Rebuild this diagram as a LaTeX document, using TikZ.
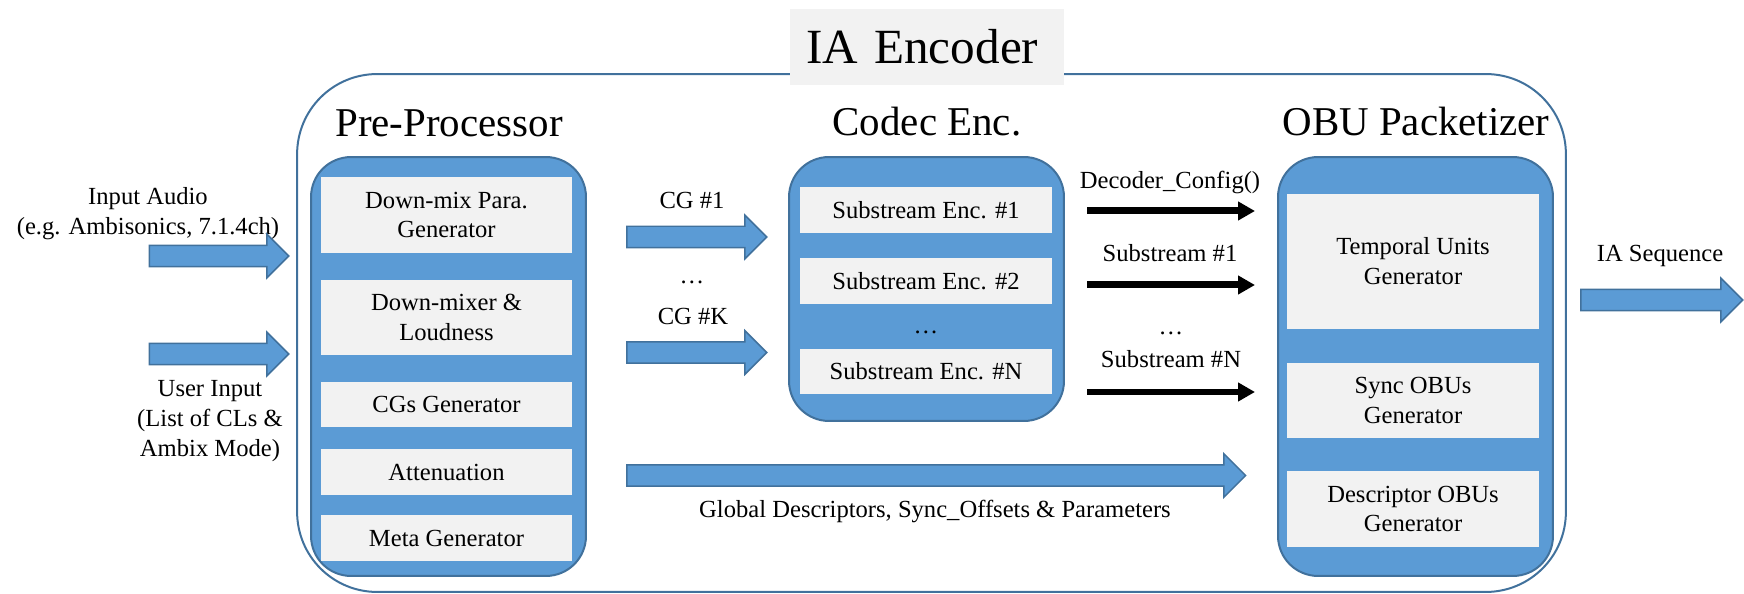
\documentclass[tikz,border=0pt]{standalone}
\usepackage{fontspec}
\setmainfont{Liberation Serif}
\usetikzlibrary{shapes.arrows,arrows.meta}

\definecolor{blueFill}{RGB}{91,155,213}
\definecolor{blueLine}{RGB}{65,113,156}
\definecolor{grayFill}{RGB}{242,242,242}

\tikzset{
  encbox/.style={draw=blueLine, line width=0.04cm, rounded corners=1.6cm, inner sep=0},
  modbox/.style={draw=blueLine, fill=blueFill, line width=0.04cm, rounded corners=0.8cm, inner sep=0, minimum width=5.5cm},
  unitbox/.style={fill=grayFill, inner sep=0, align=center, minimum width=5.03cm},
  title/.style={anchor=base, font=\fontsize{23.3}{28}\selectfont},
  lbl/.style={anchor=base},
  blockarrow/.style={single arrow, draw=blueLine, fill=blueFill, line width=0.03cm, inner xsep=0, inner ysep=0.2cm, single arrow head extend=0.22cm, anchor=tail},
  dataarrow/.style={line width=0.14cm, -{Triangle[length=0.34cm, width=0.36cm]}}
}

\begin{document}
\begin{tikzpicture}[x=0.02cm, y=-0.02cm, font=\fontsize{14}{17}\selectfont]

   \useasboundingbox (0,0) rectangle (1744,594);

   \def\xpre{446.5} % pre-processor units
   \def\xcod{926} % codec units
   \def\xobu{1413} % packetizer units
   \def\xds{1087} % data arrows start
   \def\xde{1255} % data arrows end
   \def\xmid{1170}

   % encoder frame and its name
   \node[encbox, minimum width=25.38cm, minimum height=10.36cm] (enc) at (931.5,333) {};
   \node[fill=grayFill, text width=4.84cm, inner xsep=0.32cm, minimum height=1.52cm, align=left, font=\fontsize{28}{34}\selectfont] (encname) at (927,47) {IA Encoder};

   \node[title] (pretitle) at (449,137) {Pre-Processor};
   \node[title] (codtitle) at (927,136) {Codec Enc.};
   \node[title] (obutitle) at (1416,136) {OBU Packetizer};

   \node[modbox, minimum height=8.38cm] (pre) at (448.5,366.5) {};
   \node[modbox, minimum height=5.28cm] (cod) at (926.5,289) {};
   \node[modbox, minimum height=8.38cm] (obu) at (1415.5,366.5) {};

   % pre-processor
   \node[unitbox, minimum height=1.52cm] (dmpara) at (\xpre,215) {Down-mix Para.\\Generator};
   \node[unitbox, minimum height=1.5cm] (dmixer) at (\xpre,317.5) {Down-mixer \&\\Loudness};
   \node[unitbox, minimum height=0.9cm] (cggen) at (\xpre,404.5) {CGs Generator};
   \node[unitbox, minimum height=0.92cm] (atten) at (\xpre,472) {Attenuation};
   \node[unitbox, minimum height=0.92cm] (metagen) at (\xpre,538) {Meta Generator};

   % codec
   \node[unitbox, minimum height=0.92cm] (subenca) at (\xcod,210) {Substream Enc. \#1};
   \node[unitbox, minimum height=0.92cm] (subencb) at (\xcod,281) {Substream Enc. \#2};
   \node[lbl] (coddots) at (\xcod,334) {\dots};
   \node[unitbox, minimum height=0.92cm] (subencn) at (\xcod,371.5) {Substream Enc. \#N};

   % packetizer
   \node[unitbox, minimum height=2.7cm] (tugen) at (\xobu,261.5) {Temporal Units\\Generator};
   \node[unitbox, minimum height=1.5cm] (syncgen) at (\xobu,400.5) {Sync OBUs\\Generator};
   \node[unitbox, minimum height=1.52cm] (descgen) at (\xobu,509) {Descriptor OBUs\\Generator};

   % inputs
   \node[align=center] (inaudio) at (148,214) {Input Audio\\(e.g. Ambisonics, 7.1.4ch)};
   \node[align=center] (userin) at (210,421) {User Input\\(List of CLs \&\\Ambix Mode)};
   \node[blockarrow, minimum height=2.79cm] (aaudio) at (148.5,256) {};
   \node[blockarrow, minimum height=2.79cm] (auser) at (148.5,354) {};

   % channel groups
   \node[lbl] (cga) at (692,209) {CG \#1};
   \node[lbl] (cgdots) at (692,284) {\dots};
   \node[lbl] (cgk) at (693,325) {CG \#K};
   \node[blockarrow, minimum height=2.8cm] (acga) at (626,237) {};
   \node[blockarrow, minimum height=2.8cm] (acgk) at (626,352.5) {};

   \node[blockarrow, minimum height=12.38cm] (aglob) at (626,475.5) {};
   \node[lbl] (glob) at (935,517) {Global Descriptors, Sync\_Offsets \& Parameters};

   % streams into the packetizer
   \coordinate (cfgs) at (\xds,211);
   \coordinate (cfge) at (\xde,211);
   \coordinate (ssas) at (\xds,285);
   \coordinate (ssae) at (\xde,285);
   \coordinate (ssns) at (\xds,392);
   \coordinate (ssne) at (\xde,392);
   \node[lbl] (cfg) at (\xmid,189) {Decoder\_Config()};
   \node[lbl] (ssa) at (\xmid,262) {Substream \#1};
   \node[lbl] (ssdots) at (1171,335) {\dots};
   \node[lbl] (ssn) at (1171,368) {Substream \#N};
   \draw[dataarrow] (cfgs) -- (cfge);
   \draw[dataarrow] (ssas) -- (ssae);
   \draw[dataarrow] (ssns) -- (ssne);

   % output
   \node[lbl] (seq) at (1660,262) {IA Sequence};
   \node[blockarrow, minimum height=3.24cm] (aseq) at (1580,300) {};

\end{tikzpicture}
\end{document}
